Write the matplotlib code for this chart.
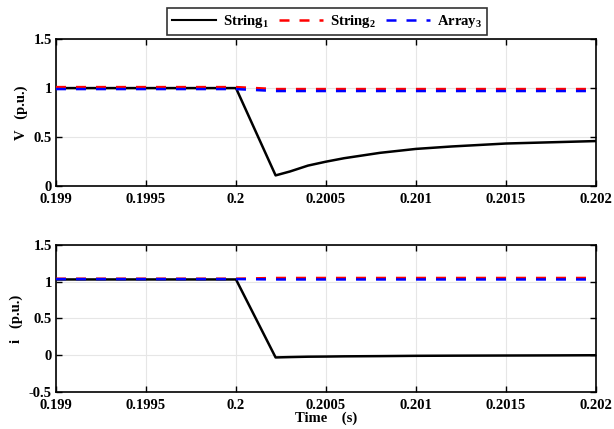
import matplotlib
matplotlib.use("Agg")
import matplotlib.pyplot as plt
from matplotlib.lines import Line2D

plt.rcParams['font.family'] = ['Liberation Serif', 'DejaVu Serif']
plt.rcParams['font.weight'] = 'bold'
plt.rcParams['mathtext.fontset'] = 'custom'
plt.rcParams['mathtext.rm'] = 'Liberation Serif:bold'
plt.rcParams['mathtext.bf'] = 'Liberation Serif:bold'

# Time samples (s)
t = [0.199, 0.1995, 0.2, 0.20022, 0.2003, 0.2004, 0.2005, 0.2006, 0.2008,
     0.201, 0.2012, 0.2015, 0.2018, 0.202]

# Voltage (p.u.)
v_string1 = [1.0, 1.0, 1.0, 0.11, 0.15, 0.21, 0.25, 0.285, 0.34,
             0.38, 0.405, 0.435, 0.45, 0.46]
v_string2 = [1.01, 1.01, 1.01, 0.99, 0.99, 0.99, 0.99, 0.99, 0.99,
             0.99, 0.99, 0.99, 0.99, 0.99]
v_array3 = [0.99, 0.99, 0.99, 0.97, 0.97, 0.97, 0.97, 0.97, 0.97,
            0.97, 0.97, 0.97, 0.97, 0.97]

# Current (p.u.)
i_string1 = [1.03, 1.03, 1.03, -0.03, -0.025, -0.02, -0.018, -0.015, -0.012,
             -0.008, -0.006, -0.004, -0.002, 0.0]
i_string2 = [1.04, 1.04, 1.04, 1.05, 1.05, 1.05, 1.05, 1.05, 1.05,
             1.05, 1.05, 1.05, 1.05, 1.05]
i_array3 = [1.035, 1.035, 1.035, 1.03, 1.03, 1.03, 1.03, 1.03, 1.03,
            1.03, 1.03, 1.03, 1.03, 1.03]

xticks = [0.199, 0.1995, 0.2, 0.2005, 0.201, 0.2015, 0.202]
xticklabels = ['0.199', '0.1995', '0.2', '0.2005', '0.201', '0.2015', '0.202']
v_ticks = [0, 0.5, 1, 1.5]
v_ticklabels = ['0', '0.5', '1', '1.5']
i_ticks = [-0.5, 0, 0.5, 1, 1.5]
i_ticklabels = ['-0.5', '0', '0.5', '1', '1.5']

fig = plt.figure(figsize=(6.14, 4.29), dpi=100)
ax1 = fig.add_axes([0.0912, 0.566, 0.8795, 0.343])
ax2 = fig.add_axes([0.0912, 0.0862, 0.8795, 0.343])

lw = 1.8
for ax, y1, y2, y3 in [(ax1, v_string1, v_string2, v_array3),
                       (ax2, i_string1, i_string2, i_array3)]:
    ax.plot(t, y1, color='black', lw=lw, zorder=3)
    ax.plot(t, y2, color='red', lw=lw, ls=(0, (4, 4)), zorder=4)
    ax.plot(t, y3, color='blue', lw=lw, ls=(0, (4, 4)), zorder=5)
    ax.set_xlim(0.199, 0.202)
    ax.set_xticks(xticks)
    ax.set_xticklabels(xticklabels)
    ax.grid(True, color='#e6e6e6', lw=0.8)
    ax.set_axisbelow(True)
    ax.tick_params(direction='in', length=4, width=1, labelsize=10.5,
                   top=True, right=True)
    ax.tick_params(axis='x', pad=5)
    ax.tick_params(axis='y', pad=3)
    for s in ax.spines.values():
        s.set_linewidth(1.2)
    for lab in ax.get_xticklabels() + ax.get_yticklabels():
        lab.set_fontweight('bold')

ax1.set_ylim(0, 1.5)
ax1.set_yticks(v_ticks)
ax1.set_yticklabels(v_ticklabels, fontweight='bold')
ax1.set_ylabel('V   (p.u.)', fontsize=10.5, fontweight='bold', labelpad=4)

ax2.set_ylim(-0.5, 1.5)
ax2.set_yticks(i_ticks)
ax2.set_yticklabels(i_ticklabels, fontweight='bold')
ax2.set_ylabel('i   (p.u.)', fontsize=10.5, fontweight='bold', labelpad=4)
ax2.set_xlabel('Time    (s)', fontsize=10.5, fontweight='bold', labelpad=0)

handles = [Line2D([], [], color='black', lw=1.5),
           Line2D([], [], color='red', lw=1.8, ls=(0, (4, 4))),
           Line2D([], [], color='blue', lw=1.8, ls=(0, (4, 4)))]
labels = [r'String$_{\mathbf{1}}$', r'String$_{\mathbf{2}}$', r'Array$_{\mathbf{3}}$']
leg = fig.legend(handles, labels, loc='center', bbox_to_anchor=(0.533, 0.95),
                 ncol=3, frameon=True, fancybox=False, edgecolor='black',
                 prop={'weight': 'bold', 'size': 10.5}, handlelength=3.0,
                 columnspacing=0.7, borderpad=0.35, handletextpad=0.5)
leg.get_frame().set_linewidth(1.2)

fig.savefig('out.png', dpi=100)
